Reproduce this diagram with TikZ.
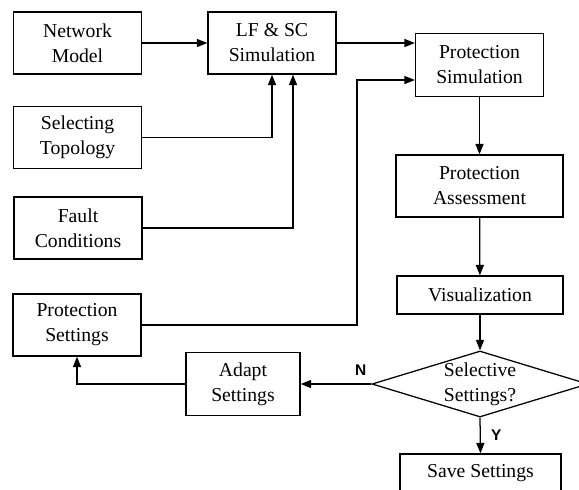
\documentclass[tikz,border=0pt]{standalone}
\usepackage{fontspec}
\setmainfont{Liberation Serif}
\newfontfamily\labelfont{Liberation Sans}
\usetikzlibrary{shapes.geometric, arrows.meta, positioning, calc}

\tikzset{
  block/.style={draw, line width=0.9pt, align=center, inner sep=0pt,
    font=\fontsize{14}{17.8}\selectfont, minimum width=3.2cm, minimum height=1.55cm},
  decision/.style={draw, diamond, aspect=3.3, line width=0.9pt, align=center, inner sep=0pt,
    font=\fontsize{14}{17.8}\selectfont, minimum width=5.4cm, minimum height=1.65cm},
  flow/.style={line width=0.9pt, -{Triangle[length=0.26cm, width=0.2cm]}},
  yesno/.style={font=\labelfont\bfseries\fontsize{11}{13}\selectfont}
}

\begin{document}
\begin{tikzpicture}[x=0.025cm, y=-0.025cm]
\useasboundingbox (0,0) rectangle (579,489);
% left column
\node[block] (netmodel) at (77.5,43) {Network\\Model};
\node[block] (topology) at (77.5,137.5) {Selecting\\Topology};
\node[block] (fault) at (78,228) {Fault\\Conditions};
\node[block] (protset) at (77,325) {Protection\\Settings};
% middle
\node[block] (lfsc) at (272,43) {LF \& SC\\Simulation};
\node[block, minimum width=2.85cm, minimum height=1.575cm] (adapt) at (243,384) {Adapt\\Settings};
% right column
\node[block, minimum height=1.575cm] (protsim) at (479.5,65) {Protection\\Simulation};
\node[block, minimum width=4.175cm] (assess) at (479.5,186) {Protection\\Assessment};
\node[block, minimum width=4.15cm, minimum height=0.95cm] (visual) at (480,295) {Visualization};
\node[decision] (select) at (480,384) {Selective\\Settings?};
\node[block, minimum width=4.025cm, minimum height=0.95cm] (save) at (480.5,473) {Save Settings};
\coordinate (setturn) at (357,80);

\draw[flow] (netmodel) -- (lfsc);
\draw[flow] (lfsc.east) -- (lfsc.east -| protsim.west);
\draw[flow] (topology.east) -| (lfsc.south);
\draw[flow] (fault.east) -| ([xshift=0.525cm]lfsc.south);
\draw[flow] (protset.east) -| (setturn) -- (setturn -| protsim.west);
\draw[flow] (protsim) -- (assess);
\draw[flow] (assess) -- (visual);
\draw[flow] (visual) -- (select);
\draw[flow] (select.west) -- (adapt.east) node[yesno, pos=0.15, above=2pt] {N};
\draw[flow] (adapt.west) -| (protset.south);
\draw[flow] (select.south) -- (save.north) node[yesno, midway, right=4pt] {Y};
\end{tikzpicture}
\end{document}
